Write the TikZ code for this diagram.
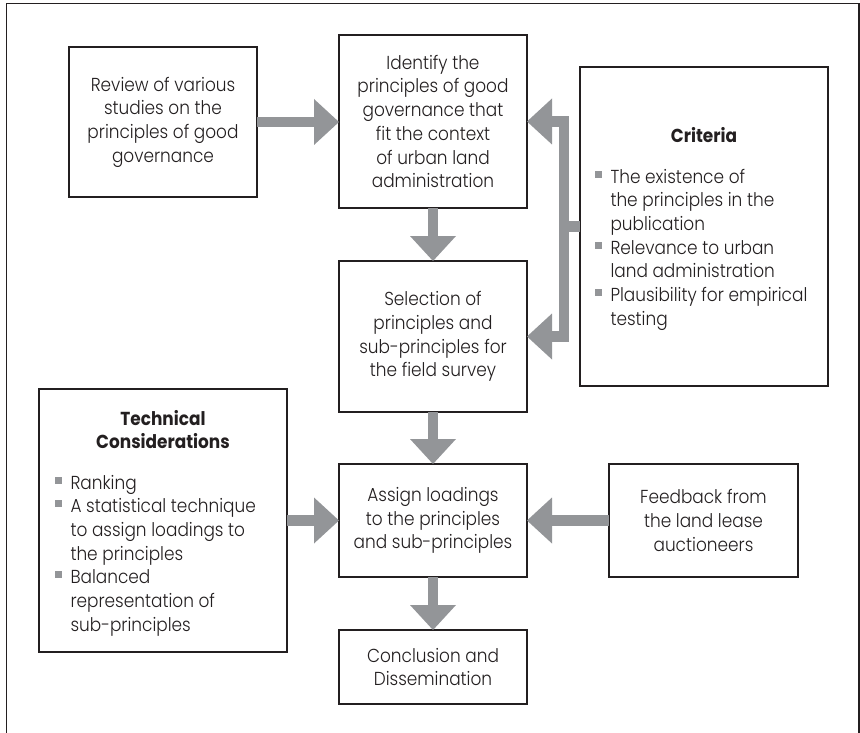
\documentclass[tikz,border=0pt]{standalone}
\usepackage{fontspec}
\setmainfont{Poppins}[UprightFont=* Light, BoldFont=* Bold, FakeStretch=0.9]
\usetikzlibrary{arrows.meta}
\definecolor{arrc}{RGB}{147,149,152}
\definecolor{ink}{RGB}{35,31,32}
\newcommand\mysz{\fontsize{18.8}{23.7}\selectfont}
\newcommand\bul{\textcolor{arrc}{\rule[5.5pt]{7pt}{7pt}}}
\newcommand\bitem{\makebox[15.5pt][l]{\bul}}
\newcommand\cont{\hspace*{15.5pt}}
\begin{document}
\begin{tikzpicture}[x=1pt,y=-1pt,
  box/.style={draw=ink, line width=1.3pt, inner sep=0pt, outer sep=0pt, align=center, font=\mysz, text=ink},
  fat/.style={draw=arrc, line width=10.5pt, -{Triangle[length=25pt,width=46pt,line width=0pt]}},
  lbl/.style={inner sep=0pt, outer sep=0pt, font=\mysz, text=ink}]
\useasboundingbox (0,0) rectangle (860,733);
\draw[ink, line width=1.3pt] (6.5,745) -- (6.5,3.5) -- (859,3.5) -- (859,745);

\node[box, minimum width=188pt, minimum height=150pt] (review) at (163,122)
  {Review of various\\studies on the\\principles of good\\governance};
\node[box, minimum width=188pt, minimum height=173pt] (identify) at (433,121.5)
  {Identify the\\principles of good\\governance that\\fit the context\\of urban land\\administration};
\node[box, minimum width=248pt, minimum height=319pt] (criteria) at (704,226.5) {};
\node[box, minimum width=188pt, minimum height=151pt] (selection) at (433,336.5)
  {Selection of\\principles and\\sub-principles for\\the field survey};
\node[box, minimum width=248pt, minimum height=263pt] (technical) at (163,520.5) {};
\node[box, minimum width=188pt, minimum height=113pt] (assign) at (433,520.5)
  {Assign loadings\\to the principles\\and sub-principles};
\node[box, minimum width=189pt, minimum height=113pt] (feedback) at (703.5,520.5)
  {Feedback from\\the land lease\\auctioneers};
\node[box, minimum width=188pt, minimum height=74pt] (conclusion) at (433,667)
  {Conclusion and\\Dissemination};

\node[lbl, anchor=base] (crithead) at (704,143) {\bfseries Criteria};
\node[lbl, anchor=base west] (critlist) at (595,183) {\begin{tabular}[t]{@{}l@{}}
\bitem The existence of\\
\cont the principles in the\\
\cont publication\\
\bitem Relevance to urban\\
\cont land administration\\
\bitem Plausibility for empirical\\
\cont testing\end{tabular}};

\node[lbl, anchor=base] (techhead) at (163,425) {\bfseries\begin{tabular}[t]{@{}c@{}}Technical\\Considerations\end{tabular}};
\node[lbl, anchor=base west] (techlist) at (55,489) {\begin{tabular}[t]{@{}l@{}}
\bitem Ranking\\
\bitem A statistical technique\\
\cont to assign loadings to\\
\cont the principles\\
\bitem Balanced\\
\cont representation of\\
\cont sub-principles\end{tabular}};

\draw[fat] (review.east) -- (review.east -| identify.west);
\draw[fat] (identify.south) -- (selection.north);
\draw[fat] (selection.south) -- (assign.north);
\draw[fat] (assign.south) -- (conclusion.north);
\draw[fat] (technical.east) -- (assign.west);
\draw[fat] (feedback.west) -- (assign.east);
\draw[fat] (criteria.west) -- ++(-16,0) |- (identify.east);
\draw[fat] (criteria.west) -- ++(-16,0) |- (selection.east);
\end{tikzpicture}
\end{document}
